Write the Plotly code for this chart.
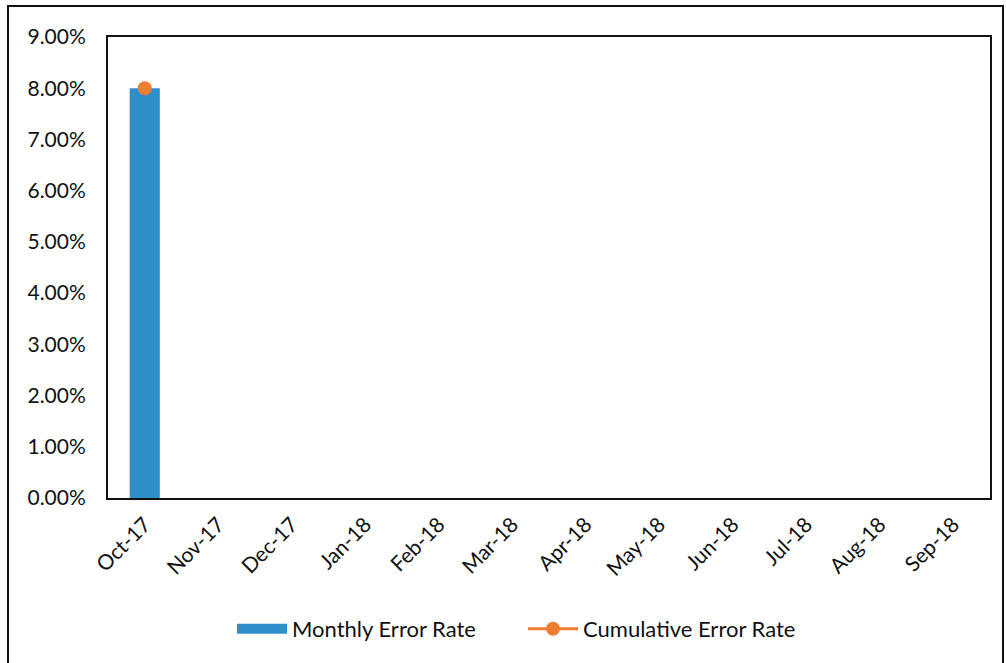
import plotly.graph_objects as go

months = ["Oct-17", "Nov-17", "Dec-17", "Jan-18", "Feb-18", "Mar-18",
          "Apr-18", "May-18", "Jun-18", "Jul-18", "Aug-18", "Sep-18"]
monthly_error = [0.08, None, None, None, None, None, None, None, None, None, None, None]
cumulative_error = [0.08, None, None, None, None, None, None, None, None, None, None, None]

BLUE = "#2E8FCB"
ORANGE = "#ED7D31"

fig = go.Figure()
fig.add_trace(go.Bar(x=months, y=monthly_error, name="Monthly Error Rate",
                     marker=dict(color=BLUE, line=dict(width=0)), width=0.41,
                     showlegend=False))
# legend-only entry to get a wide rectangular swatch like the original
fig.add_trace(go.Scatter(x=[months[0]], y=[None], name="Monthly Error Rate",
                         mode="lines", line=dict(color=BLUE, width=16),
                         hoverinfo="skip"))
fig.add_trace(go.Scatter(x=months, y=cumulative_error, name="Cumulative Error Rate",
                         mode="lines+markers",
                         line=dict(color=ORANGE, width=3),
                         marker=dict(color=ORANGE, size=14)))

W, H = 1006, 663
L, R, T, B = 108, 990, 37, 498
pw, ph = R - L, B - T

def px(x):
    return (x - L) / pw

def py(y):
    return (B - y) / ph

fig.update_layout(
    width=W, height=H,
    margin=dict(l=L, r=W - R, t=T, b=H - B, autoexpand=False),
    paper_bgcolor="white", plot_bgcolor="white",
    font=dict(family="Lato, Open Sans, sans-serif", color="#111111", size=21),
    showlegend=True,
    legend=dict(orientation="h", x=px(523), xanchor="center", y=py(629), yanchor="middle",
                font=dict(size=22), itemwidth=50, entrywidth=226, entrywidthmode="pixels",
                traceorder="normal"),
)
fig.update_xaxes(type="category", range=[-0.5, 11.5], tickangle=-45, showgrid=False,
                 showline=True, linecolor="#111111", linewidth=2, mirror=True, ticks="",
                 ticklabelstandoff=4, tickfont=dict(size=21))
fig.update_yaxes(range=[0, 0.09], dtick=0.01, tickformat=".2%", showgrid=False,
                 showline=True, linecolor="#111111", linewidth=2, mirror=True,
                 ticks="", ticklabelstandoff=16, tickfont=dict(size=21), zeroline=False)

fig.add_shape(type="rect", xref="paper", yref="paper",
              x0=px(8), x1=px(1003), y0=py(668), y1=py(6),
              line=dict(color="#111111", width=2), fillcolor="rgba(0,0,0,0)", layer="below")

fig.write_html("out.html", config={"displayModeBar": False},
               post_script="document.body.style.margin='0';")
